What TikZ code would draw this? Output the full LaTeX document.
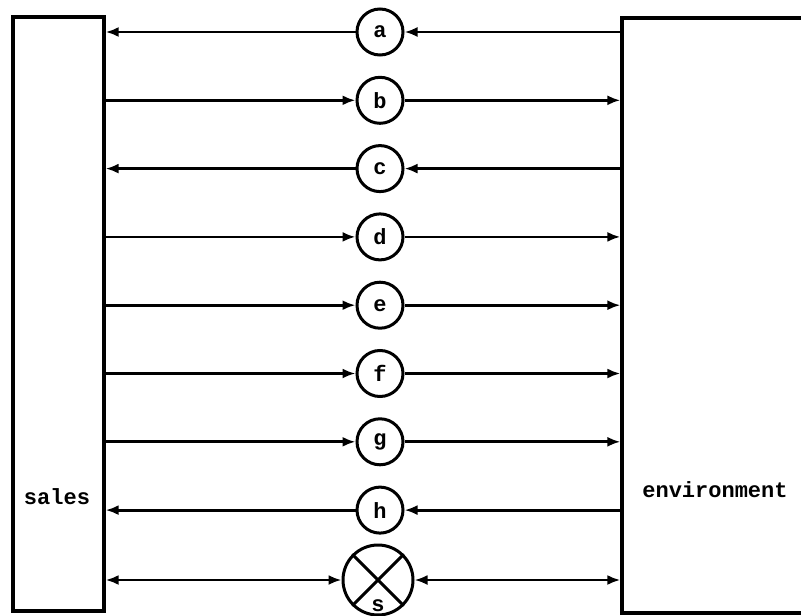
\documentclass[tikz,border=0pt]{standalone}
\usepackage{fontspec}
\setmainfont{Liberation Mono}
\usetikzlibrary{arrows.meta}
\begin{document}
\begin{tikzpicture}[x=1pt,y=-1pt,
  boxstyle/.style={draw,line width=3.2pt,inner sep=0pt},
  flow/.style={draw,circle,line width=3pt,minimum size=46pt,inner sep=0pt,font=\bfseries\fontsize{22}{24}\selectfont},
  lbl/.style={font=\bfseries\fontsize{22}{24}\selectfont},
  conn/.style={line width=2.8pt,-{Latex[length=13pt,width=10pt]}},
  conn2/.style={line width=2.8pt,{Latex[length=13pt,width=10pt]}-{Latex[length=13pt,width=10pt]}}]
\useasboundingbox (0,0) rectangle (801,616);
\clip (0,0) rectangle (801,616);
% boxes
\node[boxstyle,minimum width=91pt,minimum height=594pt] (sales) at (58.5,314) {};
\node[boxstyle,minimum width=230pt,minimum height=595pt] (env) at (737,315.5) {};
\node[lbl] (saleslbl) at (57,497) {sales};
\node[lbl] (envlbl) at (715,490) {environment};
% flow circles
\node[flow] (a) at (380,32) {a};
\node[flow] (b) at (380,100.3) {b};
\node[flow] (c) at (380,168.6) {c};
\node[flow] (d) at (380,236.9) {d};
\node[flow] (e) at (380,305.2) {e};
\node[flow] (f) at (380,373.5) {f};
\node[flow] (g) at (380,441.8) {g};
\node[flow] (h) at (380,510.1) {h};
\node[flow,minimum size=70pt] (s) at (378,580) {};
\draw[line width=3pt] (s.north west) -- (s.south east) (s.north east) -- (s.south west);
\node[lbl,anchor=base] (slbl) at (378,611) {s};
% connectors: env -> x -> sales
\foreach \n in {a,c,h}{
  \draw[conn] (env.west |- \n) -- (\n.east);
  \draw[conn] (\n.west) -- (sales.east |- \n);
}
% sales -> x -> env
\foreach \n in {b,d,e,f,g}{
  \draw[conn] (sales.east |- \n) -- (\n.west);
  \draw[conn] (\n.east) -- (env.west |- \n);
}
\draw[conn2] (sales.east |- s) -- (s.west);
\draw[conn2] (s.east) -- (env.west |- s);
\end{tikzpicture}
\end{document}
